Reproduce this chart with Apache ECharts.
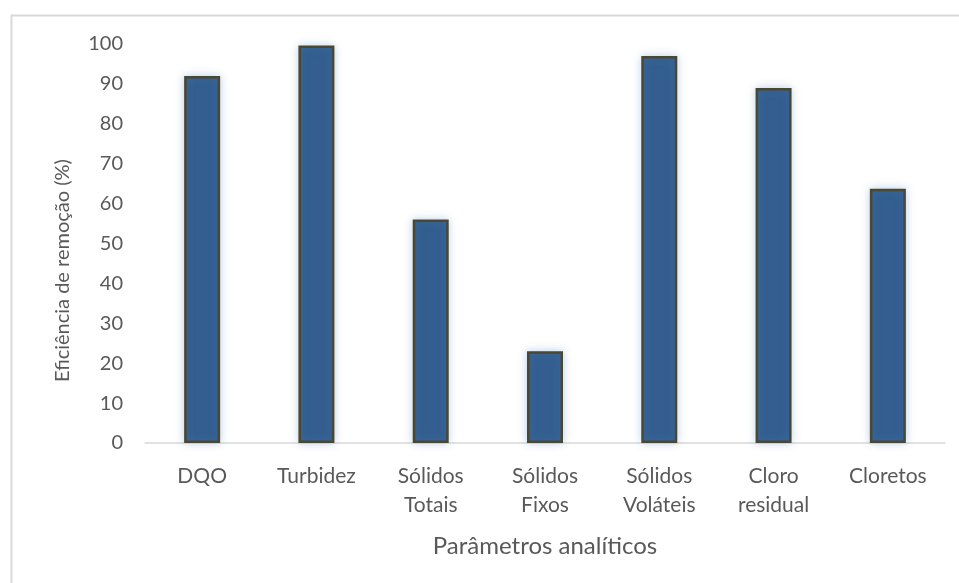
<!DOCTYPE html>
<html>
<head>
<meta charset="utf-8">
<script src="https://cdn.jsdelivr.net/npm/echarts@6/dist/echarts.min.js"></script>
<style>
  html, body { margin: 0; padding: 0; background: #fff; }
  #chart { width: 959px; height: 583px; }
</style>
</head>
<body>
<div id="chart"></div>
<script>
  var categories = ['DQO', 'Turbidez', 'Sólidos\nTotais', 'Sólidos\nFixos', 'Sólidos\nVoláteis', 'Cloro\nresidual', 'Cloretos'];
  var efficiency = [92, 99.6, 56, 23, 97, 89, 63.7];
  var yTicks = { min: 0, max: 100, interval: 10 };

  var FONT = 'Lato, "Open Sans", sans-serif';
  var chart = echarts.init(document.getElementById('chart'));

  chart.setOption({
    backgroundColor: '#fff',
    animation: false,
    graphic: [{
      type: 'rect',
      shape: { x: 11.5, y: 15.5, width: 1000, height: 700 },
      style: { fill: 'none', stroke: '#d9d9d9', lineWidth: 2 },
      silent: true
    }],
    grid: { left: 145, right: 14, top: 44, bottom: 140 },
    xAxis: {
      type: 'category',
      data: categories,
      name: 'Parâmetros analíticos',
      nameLocation: 'middle',
      nameGap: 91,
      nameTextStyle: { fontFamily: FONT, fontSize: 24, color: '#595959' },
      axisLine: { lineStyle: { color: '#d9d9d9', width: 1.5 } },
      axisTick: { show: false },
      axisLabel: {
        fontFamily: FONT, fontSize: 21, color: '#595959',
        lineHeight: 29, margin: 19, interval: 0
      }
    },
    yAxis: {
      type: 'value',
      min: yTicks.min,
      max: yTicks.max,
      interval: yTicks.interval,
      name: 'Eficiência de remoção (%)',
      nameLocation: 'middle',
      nameGap: 72,
      nameTextStyle: { fontFamily: FONT, fontSize: 20, color: '#595959', padding: [0, 54, 0, 0] },
      axisLine: { show: false },
      axisTick: { show: false },
      splitLine: { show: false },
      axisLabel: { fontFamily: FONT, fontSize: 20, color: '#595959', margin: 22 }
    },
    series: [{
      type: 'bar',
      data: efficiency,
      barWidth: 36,
      itemStyle: {
        color: '#335e8f',
        borderColor: '#4a4733',
        borderWidth: 2.5,
        shadowColor: 'rgba(90,140,200,0.35)',
        shadowBlur: 8
      }
    }]
  });
</script>
</body>
</html>
